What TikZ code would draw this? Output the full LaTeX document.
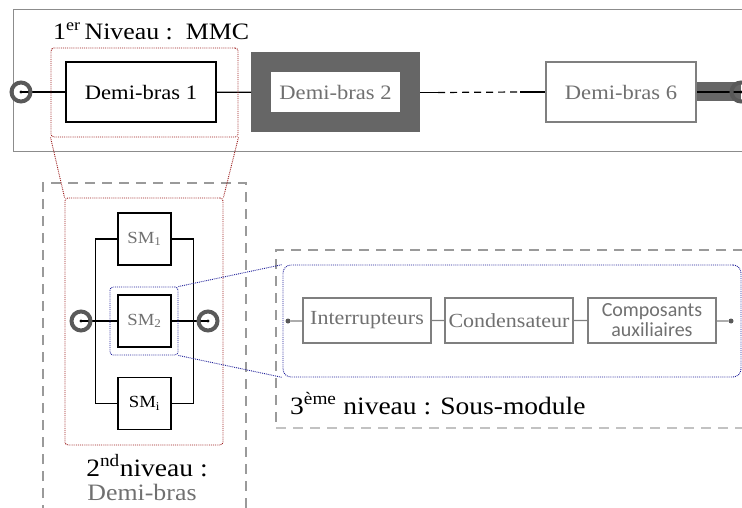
\documentclass[tikz,border=0pt]{standalone}
\usepackage{fontspec}
\setmainfont[FakeStretch=1.1]{Liberation Serif}
\newfontfamily\calibfont{Carlito}
\usepackage{xcolor}
\usepackage{tikz}
\usetikzlibrary{backgrounds}
\definecolor{framegray}{HTML}{8C8C8C}
\definecolor{dashgray}{HTML}{9A9A9A}
\definecolor{dkgray}{HTML}{666666}
\definecolor{ringgray}{HTML}{595959}
\definecolor{txtgray}{HTML}{707070}
\definecolor{boxgray}{HTML}{7F7F7F}
\definecolor{zred}{HTML}{9B1C1C}
\definecolor{zblue}{HTML}{1F1F99}
\tikzset{
  armbox/.style={
    rectangle, draw=#1, line width=1.4pt, fill=white,
    minimum width=150pt, minimum height=60pt, inner sep=2pt,
    font=\fontsize{20.5}{22}\selectfont
  },
  armbox/.default=black,
  smbox/.style={rectangle, draw=black, line width=1.4pt, fill=white,
    minimum width=53pt, minimum height=52pt, inner sep=1pt,
    font=\fontsize{17}{19}\selectfont},
  partbox/.style={rectangle, draw=boxgray, line width=1.2pt, fill=white,
    text=txtgray, minimum width=128pt, minimum height=45pt,
    inner sep=1pt, align=center, font=\fontsize{20}{20}\selectfont},
  terminal/.style={circle, draw=ringgray, line width=4pt,
    minimum size=19pt, inner sep=0pt},
  enddot/.style={circle, fill=ringgray, minimum size=5pt, inner sep=0pt},
  zoombox/.style={rectangle, draw=#1, densely dotted, line width=0.9pt,
    rounded corners=3pt},
  zoombox/.default=zred,
  zoomline/.style={draw=#1, densely dotted, line width=0.9pt},
  zoomline/.default=zred,
  levelframe/.style={draw=dashgray, line width=1.3pt,
    dash pattern=on 10pt off 7pt},
  wire/.style={line width=1.2pt},
  lvltext/.style={font=\fontsize{#1}{#1}\selectfont, inner sep=0pt},
  lvltext/.default=24,
}

\begin{document}
\begin{tikzpicture}[x=1pt, y=-1pt]
  \useasboundingbox (0,0) rectangle (742,508);

  % Frames of the levels
  \draw[draw=framegray, line width=1pt] (760,10) -| (13,152) -- (760,152);
  \draw[levelframe] (43,515) |- (246,183) -- (246,515);
  \draw[levelframe] (760,250) -| (276,428);
  \draw[levelframe, draw=dashgray!60] (276,428) -- (760,428);

  % 1er niveau : MMC
  \node[lvltext=23.5, anchor=base west] (lvl1) at (53,40) {1\textsuperscript{er}\,Niveau :\ \ MMC};
  \node[armbox] (db1) at (141,92) {Demi-bras 1};
  \node[armbox=dkgray, line width=20pt, minimum width=149pt, text=txtgray] (db2) at (335.5,92.5) {Demi-bras 2};
  \node[armbox=boxgray, text=txtgray] (db6) at (621,92) {Demi-bras 6};
  \node[terminal] (tin) at (21,92) {};
  \node[terminal] (tout) at (741,92) {};
  \coordinate (gap1) at ([xshift=18pt]db2.east);
  \coordinate (gap2) at ([xshift=-25pt]db6.west);
  \begin{scope}[on background layer]
    \draw[dkgray, line width=19pt] (db6.east) -- (tout.center);
    \draw[wire] (tin.center) -- (db1);
    \draw[wire] (db6) -- (tout.center);
  \end{scope}
  \draw[wire] (db1) -- (db2);
  \draw[wire] (db2.east) -- (gap1);
  \draw[wire, dash pattern=on 7pt off 5pt] (gap1) -- (gap2);
  \draw[wire] (gap2) -- (db6);
  \fill (tin.center) circle (1.6pt);
  \fill (tout.center) circle (1.6pt);

  % Zoom on Demi-bras 1
  \node[zoombox, minimum width=187pt, minimum height=89pt] (zdb) at (144.5,92.5) {};
  \node[zoombox, minimum width=158pt, minimum height=247pt] (zarm) at (144,321.5) {};
  \draw[zoomline] (zdb.south west) -- (zarm.north west);
  \draw[zoomline] (zdb.south east) -- (zarm.north east);

  % 2nd niveau : Demi-bras
  \node[smbox, text=txtgray] (sm1) at (144.5,239) {SM\textsubscript{1}};
  \node[smbox, text=txtgray] (sm2) at (144.5,321) {SM\textsubscript{2}};
  \node[smbox] (smi) at (144.5,403.5) {SM\textsubscript{i}};
  \node[terminal] (ta) at (81,321) {};
  \node[terminal] (tb) at (208,321) {};
  \draw[wire] (sm1.west) -- ++(-22,0) |- (smi.west);
  \draw[wire] (sm1.east) -- ++(22,0) |- (smi.east);
  \begin{scope}[on background layer]
    \draw[wire] (ta.center) -- (sm2);
    \draw[wire] (sm2) -- (tb.center);
  \end{scope}
  \fill (ta.center) circle (1.6pt);
  \fill (tb.center) circle (1.6pt);
  \node[zoombox=zblue, minimum width=68pt, minimum height=68pt] (zsm) at (144,321) {};
  \node[lvltext=25, anchor=base] (lvl2) at (147,476) {2\textsuperscript{nd}niveau :};
  \node[lvltext=23.5, anchor=base, text=txtgray] (lvl2b) at (142,500) {Demi-bras};

  % 3eme niveau : Sous-module
  \node[zoombox=zblue, rounded corners=8pt, minimum width=458pt, minimum height=112pt] (zsub) at (512,321) {};
  \draw[zoomline=zblue] (zsm.north east) -- (zsub.north west);
  \draw[zoomline=zblue] (zsm.south east) -- (zsub.south west);
  \node[partbox] (sw) at (367,320.5) {Interrupteurs};
  \node[partbox] (cap) at (509,320.5) {Condensateur};
  \node[partbox, font=\calibfont\fontsize{20}{20}\selectfont] (aux) at (652,320.5) {Composants\\auxiliaires};
  \node[enddot] (pl) at (288,321) {};
  \node[enddot] (pr) at (731,321) {};
  \draw[wire, boxgray] (pl) -- (sw) -- (cap) -- (aux) -- (pr);
  \node[lvltext=25, anchor=base west] (lvl3) at (290,414) {3\textsuperscript{ème} niveau : Sous-module};
\end{tikzpicture}
\end{document}
